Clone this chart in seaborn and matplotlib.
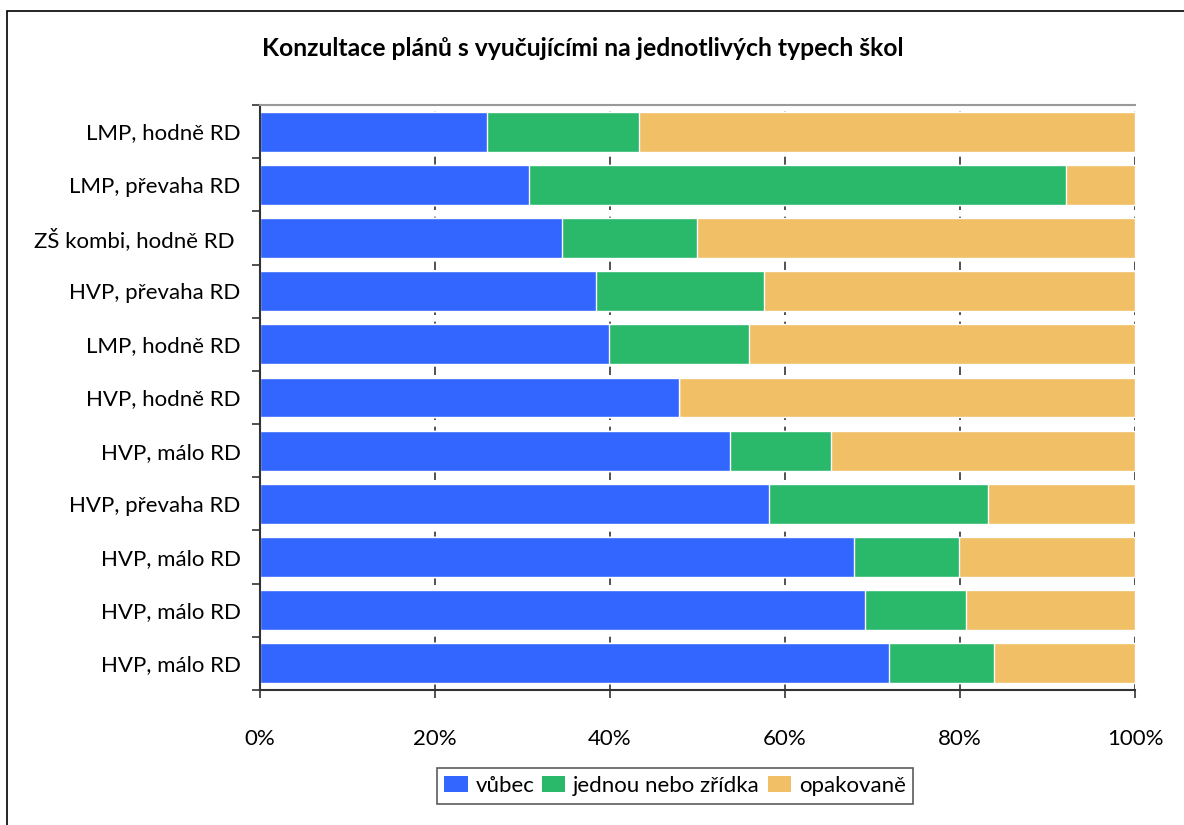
import numpy as np
import pandas as pd
import matplotlib
matplotlib.use('Agg')
import matplotlib.pyplot as plt
import seaborn as sns
from matplotlib.patches import Patch, Rectangle

sns.set_style('white')
plt.rcParams['font.family'] = ['Lato', 'DejaVu Sans']

# ====== data (top row first, values in %) ======
labels = ['LMP, hodně RD', 'LMP, převaha RD', 'ZŠ kombi, hodně RD ', 'HVP, převaha RD',
          'LMP, hodně RD', 'HVP, hodně RD', 'HVP, málo RD', 'HVP, převaha RD',
          'HVP, málo RD', 'HVP, málo RD', 'HVP, málo RD']
vubec = [25.9, 30.7, 34.5, 38.4, 39.9, 47.9, 53.7, 58.2, 67.9, 69.1, 71.9]
zridka = [17.4, 61.4, 15.4, 19.2, 16.0, 0.0, 11.6, 25.0, 12.0, 11.6, 12.0]
opakovane = [56.7, 7.9, 50.1, 42.4, 44.1, 52.1, 34.7, 16.8, 20.1, 19.3, 16.1]
series = ['vůbec', 'jednou nebo zřídka', 'opakovaně']
colors = ['#3366FF', '#2AB96A', '#F0BF66']
title = 'Konzultace plánů s vyučujícími na jednotlivých typech škol'
xticks = [0, 20, 40, 60, 80, 100]

# stacked -> cumulative ends
df = pd.DataFrame({'row': [str(i) for i in range(len(labels))],
                   'vubec': vubec, 'zridka': zridka, 'opakovane': opakovane})
df['c1'] = df['vubec']
df['c2'] = df['vubec'] + df['zridka']
df['c3'] = df['c2'] + df['opakovane']

fig = plt.figure(figsize=(11.84, 8.25), dpi=100)
ax = fig.add_axes([260/1184, 1-690/825, 875/1184, 585/825])

for col, c in zip(['c3', 'c2', 'c1'], colors[::-1]):
    sns.barplot(data=df, x=col, y='row', orient='h', color=c, width=0.75,
                saturation=1, ax=ax, zorder=2)

ax.set_xlim(0, 100)
ax.set_ylim(len(labels) - 0.5, -0.5)
ax.set_xlabel('')
ax.set_ylabel('')
ax.set_xticks(xticks)
ax.set_xticklabels([f'{t}%' for t in xticks], fontsize=16, color='black')
ax.set_yticks(range(len(labels)))
ax.set_yticklabels(labels, fontsize=16, color='black')
ax.set_yticks(np.arange(-0.5, len(labels), 1), minor=True)
ax.tick_params(axis='y', which='major', length=0, pad=14)
ax.tick_params(axis='y', which='minor', length=6, width=1.2, color='#333333', direction='out', left=True)
ax.tick_params(axis='x', which='major', length=6, width=1.2, color='#333333', direction='out',
               bottom=True, pad=22)

ax.set_axisbelow(True)
ax.xaxis.grid(True, linestyle=(0, (5, 4)), color='#333333', linewidth=1.2)
ax.yaxis.grid(False)
for s in ['left', 'bottom']:
    ax.spines[s].set_color('#333333')
    ax.spines[s].set_linewidth(1.5)
ax.spines['top'].set_color('#999999')
ax.spines['top'].set_linewidth(1.5)
ax.spines['right'].set_visible(False)

fig.text(583/1184, 1-49/825, title, ha='center', va='center', fontsize=17.8,
         fontweight='bold', color='black')

handles = [Patch(facecolor=c, edgecolor='none', label=s) for c, s in zip(colors, series)]
leg = fig.legend(handles=handles, loc='center', bbox_to_anchor=(675/1184, 1-786/825), ncol=3,
                 fontsize=16, frameon=True, fancybox=False, edgecolor='#333333',
                 handlelength=1.05, handleheight=0.75, handletextpad=0.35, columnspacing=0.35,
                 borderpad=0.35)
leg.get_frame().set_linewidth(1.2)
for t in leg.get_texts():
    t.set_color('black')

fig.patches.append(Rectangle((7/1184, -0.1), 1.2, 1.1 - 11/825, transform=fig.transFigure,
                             fill=False, edgecolor='black', linewidth=1.2))

fig.savefig('out.png', dpi=100)
